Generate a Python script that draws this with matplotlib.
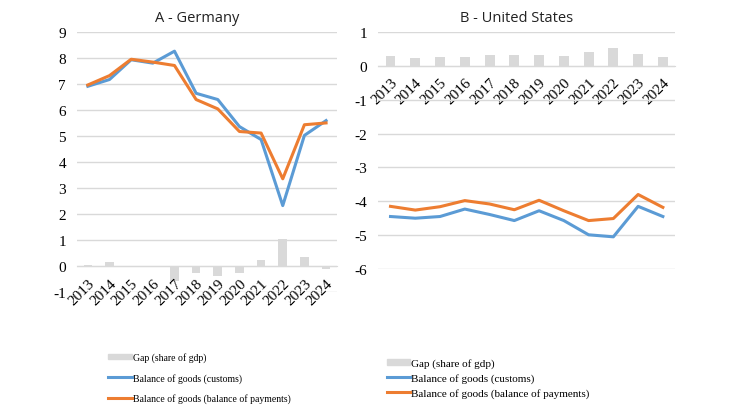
import numpy as np
import matplotlib
matplotlib.use("Agg")
import matplotlib.pyplot as plt
from matplotlib.lines import Line2D
from matplotlib.patches import Patch

plt.rcParams["axes.unicode_minus"] = False
plt.rcParams["font.family"] = "Liberation Serif"

years = [str(y) for y in range(2013, 2025)]

# Germany (% of GDP)
de_customs = [6.92, 7.18, 7.94, 7.81, 8.27, 6.65, 6.41, 5.37, 4.87, 2.33, 5.03, 5.60]
de_bop = [6.97, 7.33, 7.96, 7.85, 7.72, 6.41, 6.05, 5.18, 5.12, 3.36, 5.44, 5.51]
de_gap = [0.04, 0.15, 0.01, 0.01, -0.57, -0.28, -0.38, -0.25, 0.24, 1.03, 0.37, -0.10]

# United States (% of GDP)
us_customs = [-4.45, -4.50, -4.45, -4.23, -4.39, -4.57, -4.28, -4.57, -4.99, -5.05, -4.15, -4.45]
us_bop = [-4.15, -4.26, -4.16, -3.98, -4.08, -4.25, -3.97, -4.28, -4.57, -4.51, -3.80, -4.18]
us_gap = [0.29, 0.23, 0.27, 0.25, 0.31, 0.33, 0.31, 0.29, 0.42, 0.52, 0.35, 0.27]

BLUE = "#5B9BD5"
ORANGE = "#ED7D31"
GREY = "#D9D9D9"
GRID = "#D9D9D9"

fig = plt.figure(figsize=(7.3, 4.1), dpi=100)


def panel(rect, gap, customs, bop, ylim, title, title_x):
    ax = fig.add_axes(rect)
    x = np.arange(len(years))
    ax.bar(x, gap, width=0.4, color=GREY, zorder=2)
    ax.plot(x, customs, color=BLUE, lw=2.2, zorder=3)
    ax.plot(x, bop, color=ORANGE, lw=2.2, zorder=4)
    ax.set_xlim(-0.5, len(years) - 0.5)
    ax.set_ylim(*ylim)
    ax.set_yticks(range(ylim[0], ylim[1] + 1))
    ax.set_axisbelow(False)
    ax.grid(axis="y", color=GRID, lw=1)
    for s in ["top", "right", "left"]:
        ax.spines[s].set_visible(False)
    ax.spines["bottom"].set_position(("data", 0))
    ax.spines["bottom"].set_color(GRID)
    ax.set_xticks(x)
    ax.set_xticklabels(years, rotation=45, ha="right", rotation_mode="anchor")
    ax.tick_params(axis="both", length=0, labelsize=11, colors="#000000")
    ax.tick_params(axis="x", pad=7)
    ax.tick_params(axis="y", pad=8)
    fig.text(title_x, 0.955, title, ha="center", va="center",
             family="Open Sans", fontsize=10.5, color="#222222")
    return ax


panel([0.1055, 0.285, 0.356, 0.634], de_gap, de_customs, de_bop, (-1, 9),
      "A - Germany", 0.27)
panel([0.518, 0.3415, 0.407, 0.578], us_gap, us_customs, us_bop, (-6, 1),
      "B - United States", 0.708)

handles = [Patch(color=GREY),
           Line2D([], [], color=BLUE, lw=2.2),
           Line2D([], [], color=ORANGE, lw=2.2)]
labels = ["Gap (share of gdp)", "Balance of goods (customs)",
          "Balance of goods (balance of payments)"]

fig.legend(handles, labels, loc="upper left", bbox_to_anchor=(0.142, 0.148),
           frameon=False, fontsize=7, handlelength=2.5, handleheight=0.5,
           handletextpad=0.1, labelspacing=1.1, borderaxespad=0)
fig.legend(handles, labels, loc="upper left", bbox_to_anchor=(0.524, 0.135),
           frameon=False, fontsize=8, handlelength=2.1, handleheight=0.5,
           handletextpad=0.1, labelspacing=0.45, borderaxespad=0)

fig.savefig("out.png", dpi=100)
